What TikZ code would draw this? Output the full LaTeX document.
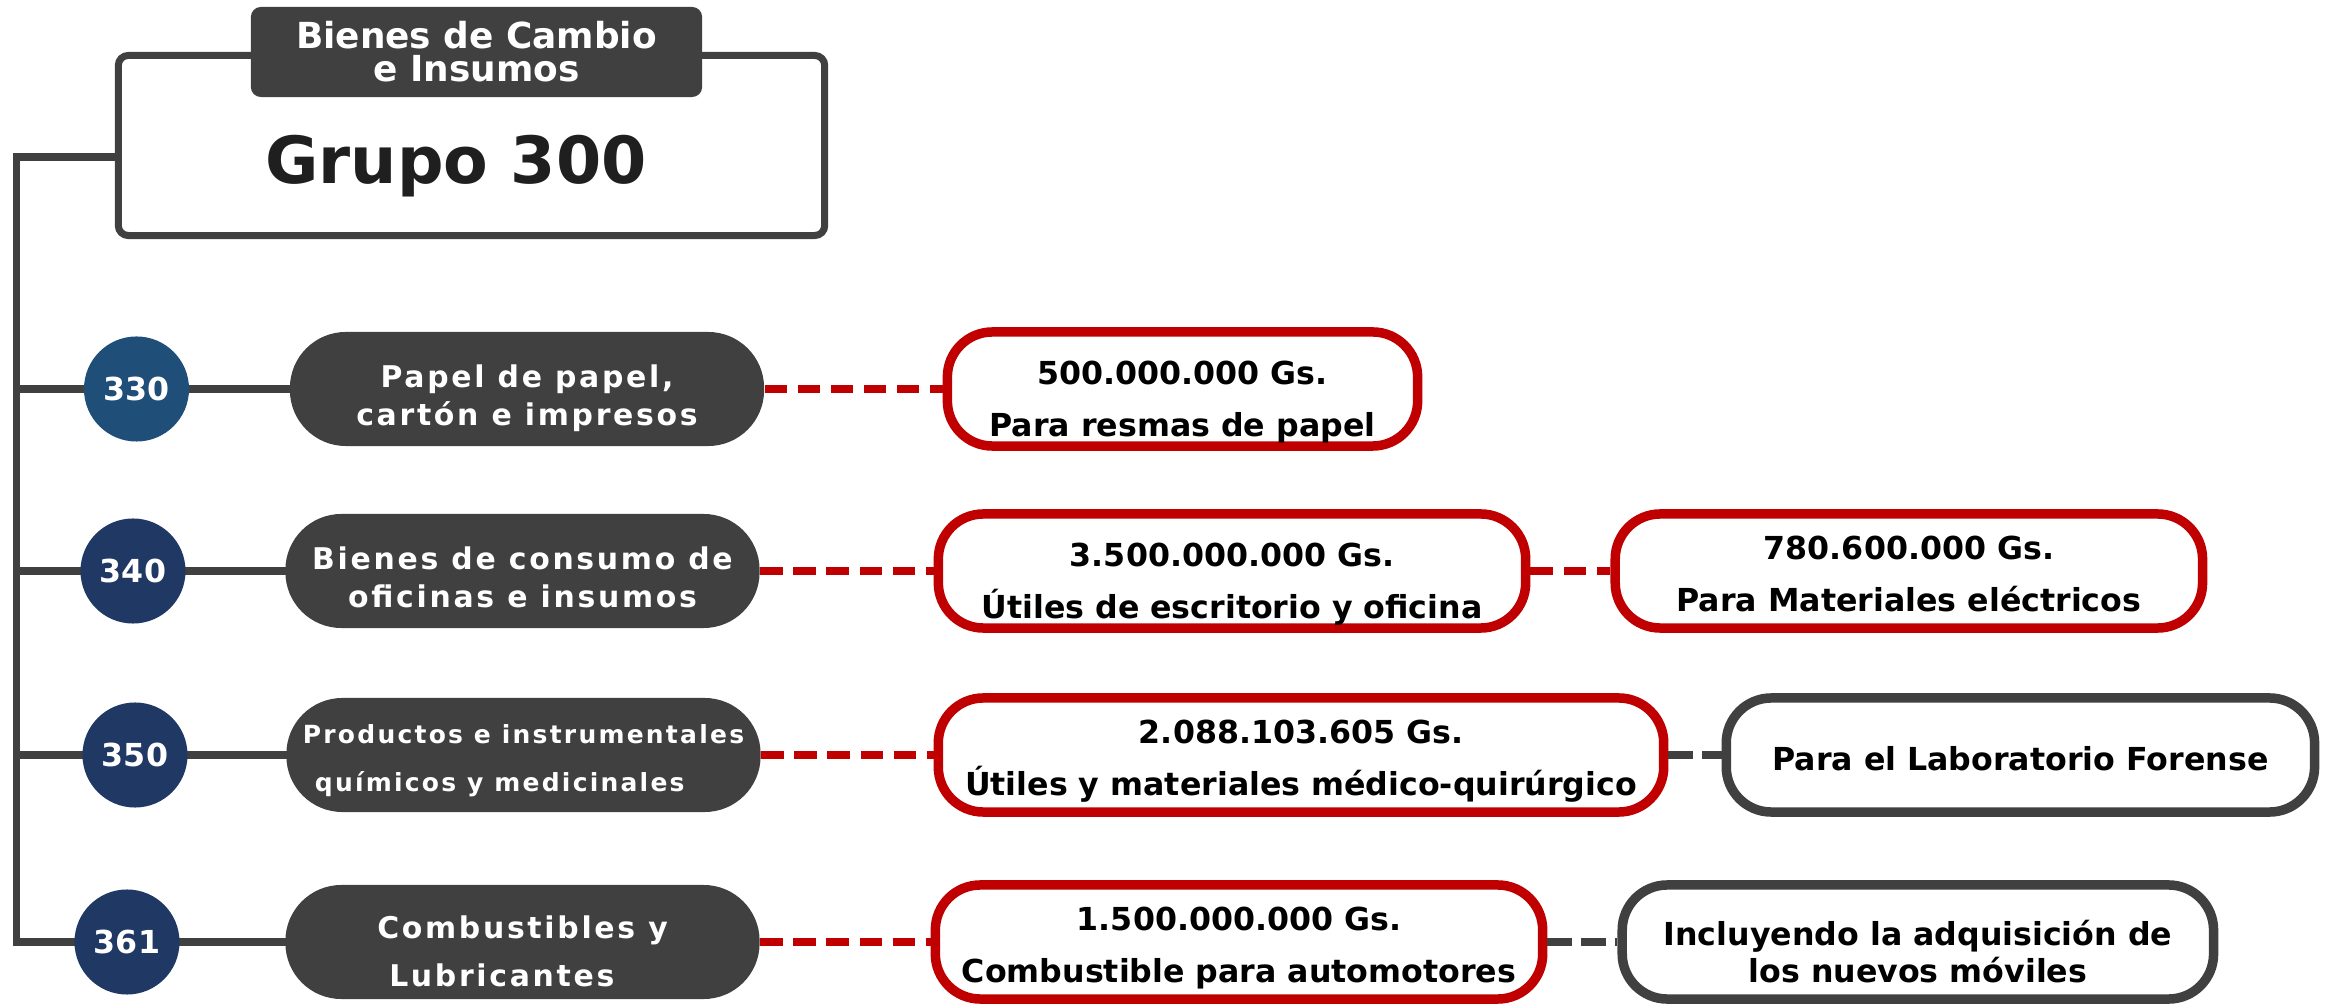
\documentclass[tikz,border=0pt]{standalone}
\usepackage{fontspec}
\setmainfont{DejaVu Sans}
\newfontfamily\spacedfont{DejaVu Sans}[LetterSpace=9.0]
\usetikzlibrary{positioning}
\definecolor{gris}{HTML}{404040}
\definecolor{rojo}{HTML}{C00000}
\definecolor{azul}{HTML}{1F4E79}
\definecolor{marino}{HTML}{203864}

\begin{document}
\begin{tikzpicture}[x=0.01cm, y=-0.01cm]
% STYLES
\tikzset{%
    titulo/.style={%
rectangle,
rounded corners=0.1cm,
fill=gris,
text=white,
inner sep=0pt,
align=center,
font=\bfseries\fontsize{10.2}{9.4}\selectfont,
minimum width=4.51cm,
minimum height=0.9cm
                  },
    grupo/.style={%
rectangle,
rounded corners=0.1cm,
draw=gris,
line width=2pt,
fill=white,
minimum width=7.06cm,
minimum height=1.8cm
                  },
    codigo/.style={%
circle,
fill=#1,
text=white,
inner sep=0pt,
font=\bfseries\fontsize{9}{10}\selectfont,
minimum size=1.05cm
                  },
    rubro/.style={%
rectangle,
rounded corners=0.56cm,
fill=gris,
text=white,
inner sep=0pt,
align=center,
font=\spacedfont\bfseries\fontsize{8.5}{10.8}\selectfont,
text height=0.78cm,
text depth=0.06cm,
minimum width=4.74cm,
minimum height=1.14cm
                  },
    monto/.style={%
rectangle,
rounded corners=0.45cm,
draw=rojo,
line width=2.7pt,
fill=white,
inner sep=0pt,
align=center,
font=\bfseries\fontsize{9}{14.8}\selectfont,
text height=0.86cm,
text depth=0.05cm,
minimum height=1.14cm
                  },
    detalle/.style={monto, draw=gris},
    rama/.style={draw=gris, line width=2.2pt, line cap=rect},
    enlace/.style={draw=rojo, line width=2.3pt, dash pattern=on 6.3pt off 3.1pt},
    enlacegris/.style={draw=gris, line width=2pt, dash pattern=on 7pt off 2.6pt}
             }
\useasboundingbox (0,0) rectangle (2328,1004);

% Draw the group header
\node [grupo] (grupo) at (471.5,145.5) {};
\node [titulo] (titulo) at (476.5,52) {Bienes de Cambio\\e Insumos};
\node [font=\bfseries\fontsize{18.5}{20}\selectfont, text=black!88] (grupotxt) at (456,166) {Grupo 300};

% Draw the items
\node [rubro] (p330) at (527,389) {Papel de papel,\\cartón e impresos};
\node [rubro] (p340) at (522.5,571) {Bienes de consumo de\\oficinas e insumos};
\node [rubro, align=left, font=\spacedfont\bfseries\fontsize{7.1}{13.4}\selectfont] (p350) at (523.5,755) {Productos e instrumentales\\\hspace*{0.12cm}químicos y medicinales};
\node [rubro, align=left, text height=0.94cm, font=\spacedfont\bfseries\fontsize{8.5}{13.4}\selectfont] (p361) at (522.5,942) {Combustibles y\\\hspace*{0.12cm}Lubricantes};

% Draw the amounts
\node [monto, minimum width=4.70cm, text height=1cm] (m330) at (1182.5,389) {500.000.000 Gs.\\Para resmas de papel};
\node [monto, minimum width=5.87cm, text height=1cm] (m340) at (1232,571) {3.500.000.000 Gs.\\Útiles de escritorio y oficina};
\node [monto, minimum width=5.87cm, right=0.8cm of m340] (e340) {780.600.000 Gs.\\Para Materiales eléctricos};
\node [monto, minimum width=7.25cm] (m350) at (1301,755) {2.088.103.605 Gs.\\Útiles y materiales médico-quirúrgico};
\node [detalle, minimum width=5.88cm, text height=0.3cm, text depth=0pt, right=0.53cm of m350] (e350) {Para el Laboratorio Forense};
\node [monto, minimum width=6.07cm] (m361) at (1239,942) {1.500.000.000 Gs.\\Combustible para automotores};
\node [detalle, minimum width=5.91cm, font=\bfseries\fontsize{9}{10.5}\selectfont, right=0.7cm of m361] (e361) {Incluyendo la adquisición de\\los nuevos móviles};

% Draw the tree
\coordinate (raiz) at (16.5,157);
\coordinate (t330) at (16.5,389);
\coordinate (t340) at (16.5,571);
\coordinate (t350) at (16.5,755);
\coordinate (t361) at (16.5,942);
\path[rama]
(raiz) edge (raiz -| grupo.west)
(raiz) edge (t361)
(t330) edge (p330)
(t340) edge (p340)
(t350) edge (p350)
(t361) edge (p361);

% Draw the codes
\node [codigo=azul] (c330) at (136.5,389) {330};
\node [codigo=marino] (c340) at (133,571) {340};
\node [codigo=marino] (c350) at (135,755) {350};
\node [codigo=marino] (c361) at (127,942) {361};

% Draw the links between boxes
\path[enlace]
(p330) edge (m330)
(p340) edge (m340)
(m340) edge (e340)
(p350) edge (m350)
(p361) edge (m361);
\path[enlacegris]
(m350) edge (e350)
(m361) edge (e361);
\end{tikzpicture}
\end{document}
